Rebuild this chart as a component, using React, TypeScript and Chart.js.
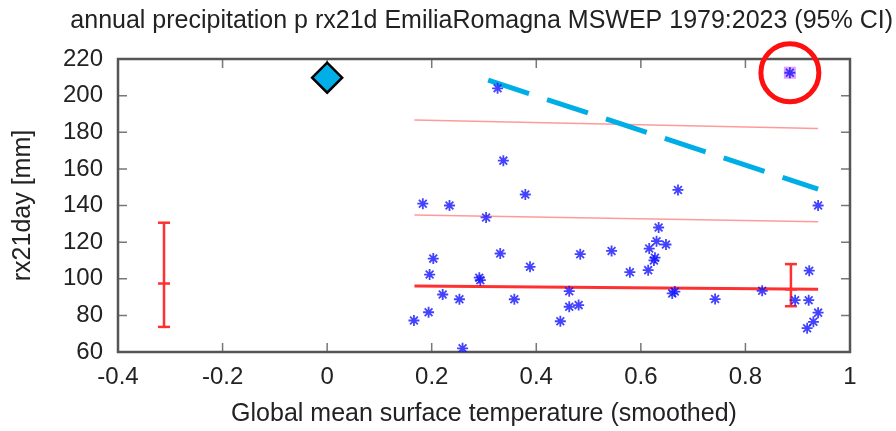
import React, { useEffect, useRef } from "react";
import { Chart, registerables } from "chart.js";

Chart.register(...registerables);

// ---- data ----
const titleText = "annual precipitation p rx21d EmiliaRomagna MSWEP 1979:2023 (95% CI)";
const xAxisTitle = "Global mean surface temperature (smoothed)";
const yAxisTitle = "rx21day [mm]";

const xTickValues = [-0.4, -0.2, 0, 0.2, 0.4, 0.6, 0.8, 1];
const xTickLabels = ["-0.4", "-0.2", "0", "0.2", "0.4", "0.6", "0.8", "1"];
const yTickValues = [60, 80, 100, 120, 140, 160, 180, 200, 220];
const yTickLabels = ["60", "80", "100", "120", "140", "160", "180", "200", "220"];

// observations (smoothed GMST, rx21day)
const obsX = [
  0.326, 0.337, 0.183, 0.234, 0.379, 0.671, 0.939, 0.304, 0.634, 0.630,
  0.648, 0.616, 0.627, 0.625, 0.203, 0.331, 0.484, 0.544, 0.196, 0.388,
  0.579, 0.614, 0.922, 0.291, 0.293, 0.221, 0.253, 0.358, 0.463, 0.463,
  0.481, 0.446, 0.166, 0.194, 0.259, 0.660, 0.665, 0.742, 0.832, 0.895,
  0.921, 0.939, 0.930, 0.918,
];
const obsY = [
  204, 164.5, 141, 140, 146, 148.5, 140, 133.5, 128, 120.5,
  118.7, 116.5, 111.5, 110, 111, 113.8, 113.4, 115.2, 102.3, 106.5,
  103.6, 104.7, 104.4, 100.6, 99.2, 91.4, 88.8, 88.8, 93.2, 84.7,
  85.6, 76.8, 77.2, 81.7, 62, 92, 93, 88.9, 93.4, 88.3,
  88.3, 81.5, 76.5, 73,
];
// highlighted event (2023)
const eventX = [0.885];
const eventY = [212.5];

// fitted location and return-level lines
const fitX = [0.167, 0.939];
const fitMean = [96.0, 94.2];
const fitRL6 = [134.8, 131.1];
const fitRL40 = [186.7, 182.1];

// dashed return-period line
const dashX = [0.308, 0.939];
const dashY = [208.5, 149];

// counterfactual-climate point
const diamondX = [0];
const diamondY = [209.8];

// error bars (low, centre, high)
const errLeftX = -0.312;
const errLeftY = [73.7, 97.4, 130.6];
const errRightX = 0.887;
const errRightY = [85, 94.2, 108];

const FONT = "'Liberation Sans', Arial, Helvetica, sans-serif";
const TEXT = "#222222";

const frameTicks = {
  id: "frameTicks",
  beforeDatasetsDraw(chart: any) {
    const { ctx, chartArea } = chart;
    const xs = chart.scales.x;
    const ys = chart.scales.y;
    const L = 9;
    ctx.save();
    ctx.strokeStyle = "#777777";
    ctx.lineWidth = 1.5;
    ctx.beginPath();
    xTickValues.forEach((v) => {
      const p = xs.getPixelForValue(v);
      if (p <= chartArea.left + 1 || p >= chartArea.right - 1) return;
      ctx.moveTo(p, chartArea.bottom);
      ctx.lineTo(p, chartArea.bottom - L);
      ctx.moveTo(p, chartArea.top);
      ctx.lineTo(p, chartArea.top + L);
    });
    yTickValues.forEach((v) => {
      const p = ys.getPixelForValue(v);
      if (p <= chartArea.top + 1 || p >= chartArea.bottom - 1) return;
      ctx.moveTo(chartArea.left, p);
      ctx.lineTo(chartArea.left + L, p);
      ctx.moveTo(chartArea.right, p);
      ctx.lineTo(chartArea.right - L, p);
    });
    ctx.stroke();
    ctx.strokeStyle = "#555555";
    ctx.lineWidth = 2.5;
    ctx.strokeRect(
      chartArea.left,
      chartArea.top,
      chartArea.right - chartArea.left,
      chartArea.bottom - chartArea.top
    );
    ctx.restore();
  },
};

const zip = (xs: number[], ys: number[]) => xs.map((x, i) => ({ x, y: ys[i] }));

export default function App() {
  const ref = useRef<HTMLCanvasElement | null>(null);

  useEffect(() => {
    if (!ref.current) return;
    const red = "#ff3030";
    const chart = new Chart(ref.current, {
      type: "scatter",
      data: {
        datasets: [
          {
            label: "circle",
            data: zip(eventX, eventY),
            pointStyle: "circle",
            pointRadius: 29,
            pointBorderWidth: 5,
            pointBorderColor: "#ff1010",
            pointBackgroundColor: "rgba(0,0,0,0)",
            clip: false,
          } as any,
          {
            label: "obs",
            data: zip(obsX.concat(eventX), obsY.concat(eventY)),
            pointStyle: "star",
            pointRadius: 5.5,
            pointBorderWidth: 1.8,
            pointBorderColor: "rgba(20,20,255,0.8)",
            pointBackgroundColor: "rgba(20,20,255,0.8)",
          },
          {
            label: "event",
            data: zip(eventX, eventY),
            pointStyle: "rect",
            pointRadius: 8.5,
            pointBorderWidth: 0,
            pointBackgroundColor: "#e0a0ff",
          },
          {
            label: "counterfactual",
            data: zip(diamondX, diamondY),
            pointStyle: "rectRot",
            pointRadius: 15,
            pointBorderWidth: 2.5,
            pointBorderColor: "#000000",
            pointBackgroundColor: "#00aee8",
          },
          {
            label: "errLeft",
            data: errLeftY.map((y) => ({ x: errLeftX, y })),
            showLine: true,
            borderColor: red,
            borderWidth: 2.5,
            pointStyle: "line",
            pointRadius: 6,
            pointBorderWidth: 2.5,
            pointBorderColor: red,
          },
          {
            label: "errRight",
            data: errRightY.map((y) => ({ x: errRightX, y })),
            showLine: true,
            borderColor: red,
            borderWidth: 2.5,
            pointStyle: "line",
            pointRadius: 6,
            pointBorderWidth: 2.5,
            pointBorderColor: red,
          },
          {
            label: "dashed",
            data: zip(dashX, dashY),
            showLine: true,
            borderColor: "#00aee6",
            borderWidth: 5,
            borderDash: [43, 19],
            pointRadius: 0,
          },
          {
            label: "mean",
            data: zip(fitX, fitMean),
            showLine: true,
            borderColor: red,
            borderWidth: 3,
            pointRadius: 0,
          },
          {
            label: "rl6",
            data: zip(fitX, fitRL6),
            showLine: true,
            borderColor: "#ff9a9a",
            borderWidth: 1.5,
            pointRadius: 0,
          },
          {
            label: "rl40",
            data: zip(fitX, fitRL40),
            showLine: true,
            borderColor: "#ff9a9a",
            borderWidth: 1.5,
            pointRadius: 0,
          },
        ],
      },
      options: {
        responsive: false,
        animation: false,
        events: [],
        layout: { padding: { left: 0, right: 3, top: 0, bottom: 0 } },
        plugins: {
          legend: { display: false },
          tooltip: { enabled: false },
          title: {
            display: true,
            text: titleText,
            align: "end",
            color: TEXT,
            font: { family: FONT, size: 25, weight: "normal" },
            padding: { top: 6.5, bottom: 22.5 },
          },
        },
        scales: {
          x: {
            type: "linear",
            min: -0.4,
            max: 1,
            afterBuildTicks: (s: any) => {
              s.ticks = xTickValues.map((v) => ({ value: v }));
            },
            afterFit: (s: any) => {
              s.height = 79;
            },
            grid: { display: false, drawTicks: false },
            border: { display: false },
            ticks: {
              autoSkip: false,
              maxRotation: 0,
              padding: 11,
              color: TEXT,
              font: { family: FONT, size: 24 },
              callback: (_v: any, i: number) => xTickLabels[i],
            },
            title: {
              display: true,
              text: xAxisTitle,
              color: TEXT,
              font: { family: FONT, size: 25 },
              padding: { top: 0, bottom: 2 },
            },
          },
          y: {
            type: "linear",
            position: "left",
            min: 60,
            max: 220,
            afterBuildTicks: (s: any) => {
              s.ticks = yTickValues.map((v) => ({ value: v }));
            },
            afterFit: (s: any) => {
              s.width = 118;
            },
            grid: { display: false, drawTicks: false },
            border: { display: false },
            ticks: {
              autoSkip: false,
              padding: 15,
              color: TEXT,
              font: { family: FONT, size: 24 },
              callback: (_v: any, i: number) => yTickLabels[i],
            },
            title: {
              display: true,
              text: yAxisTitle,
              color: TEXT,
              font: { family: FONT, size: 25 },
              padding: { top: 8, bottom: 0 },
            },
          },
          y2: {
            type: "linear",
            position: "right",
            display: true,
            afterFit: (s: any) => {
              s.width = 43;
            },
            grid: { display: false, drawTicks: false },
            border: { display: false },
            ticks: { display: false },
          },
        },
      } as any,
      plugins: [frameTicks],
    });
    return () => chart.destroy();
  }, []);

  return (
    <div style={{ position: "absolute", left: 0, top: 0, width: 896, height: 431, background: "#ffffff" }}>
      <canvas ref={ref} width={896} height={431} style={{ display: "block" }} />
    </div>
  );
}
